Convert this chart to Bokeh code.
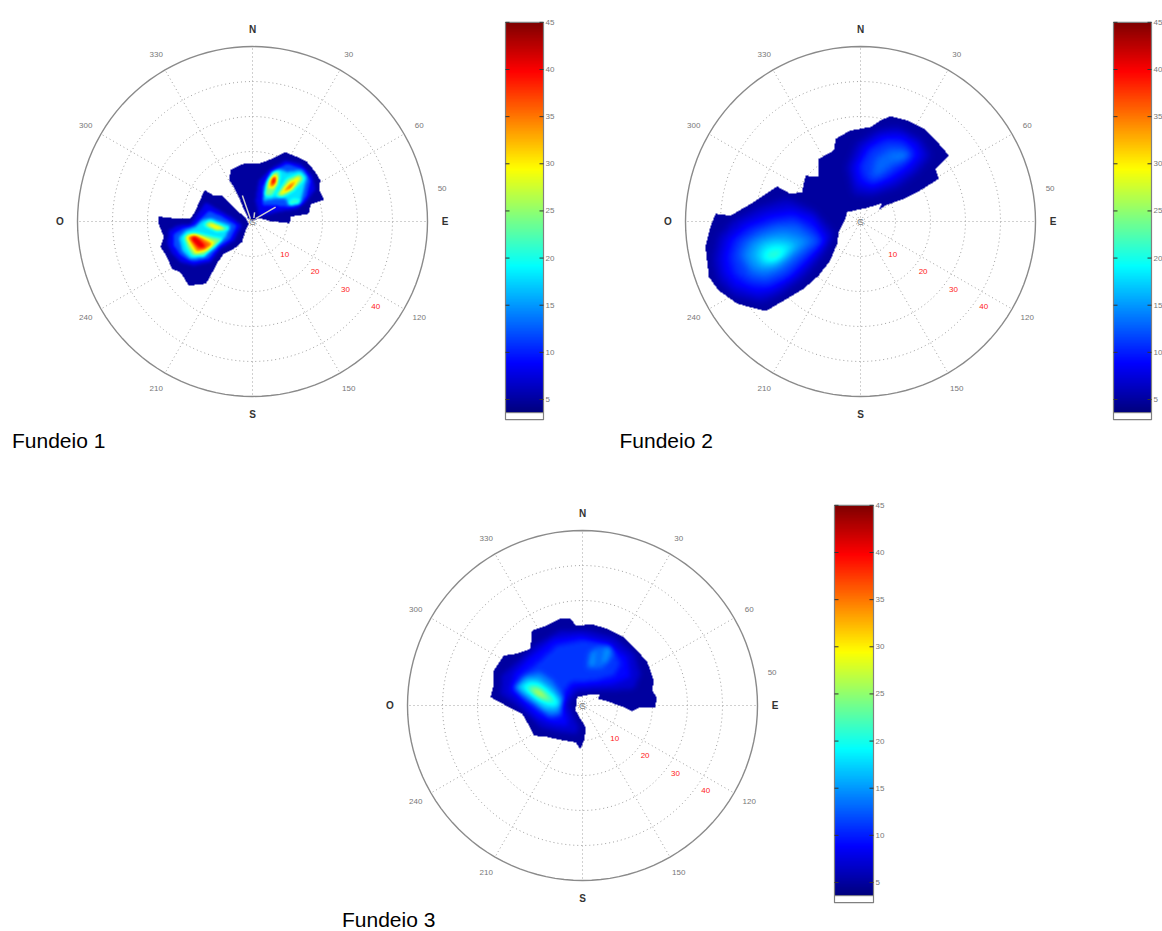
import numpy as np
from bokeh.core.properties import value
from bokeh.embed import file_html
from bokeh.models import LinearColorMapper, Range1d
from bokeh.plotting import figure
from bokeh.resources import INLINE

# ---------- data: contours (level, [(east, north) speed components]) ----------
CBAR_TICKS = [5, 10, 15, 20, 25, 30, 35, 40, 45]
RING_LABELS = [10, 20, 30, 40]
DIR_LABELS = ["N", "30", "60", "50", "E", "120", "150", "S", "210", "240", "O", "300", "330"]
DIR_LABEL_BEARINGS = [0, 30, 60, 80, 90, 120, 150, 180, 210, 240, 270, 300, 330]
TITLES = ["Fundeio 1", "Fundeio 2", "Fundeio 3"]

F1_OUTLINES = [
    [(-1.3,1.0),(-2.5,3.6),(-3.9,7.0),(-5.3,9.8),(-6.6,11.7),(-6.3,14.8),(-2.5,16.5),(1.8,16.5),(5.6,17.9),(9.4,19.8),(12.8,18.4),(15.6,17.0),(18.0,14.1),(19.4,11.7),(19.0,9.3),(20.4,6.2),(16.6,4.9),(16.1,2.2),(11.0,1.4),(10.6,-0.5),(5.1,0.1),(1.8,1.0),(0,0.3)],
    [(-26.8,1.4),(-23.0,1.0),(-17.7,0.8),(-16.3,3.1),(-13.7,9.0),(-11.0,7.4),(-8.7,7.4),(-6.3,4.9),(-2.0,1.0),(-1.0,-0.7),(-2.0,-2.6),(-3.0,-5.9),(-5.3,-7.8),(-8.2,-9.2),(-9.9,-11.6),(-12.5,-16.4),(-13.4,-17.8),(-18.2,-18.3),(-20.6,-14.5),(-23.0,-13.5),(-24.4,-10.2),(-26.3,-7.3),(-25.3,-4.5),(-26.8,-0.7)],
]
F1_CONTOURS = [
    (8, [(1.8,1.7),(0.9,6.0),(1.8,11.7),(5.1,15.0),(9.4,17.4),(13.7,16.5),(17.0,13.1),(18.0,9.3),(15.6,6.0),(12.8,3.6),(7.0,2.7),(3.2,1.7)]),
    (12, [(2.8,4.6),(2.8,9.8),(5.1,14.1),(9.9,16.5),(14.7,15.0),(16.6,11.7),(15.6,7.4),(13.7,4.6),(9.9,4.1),(6.1,4.6)]),
    (18, [(3.2,6.0),(3.7,10.3),(5.6,14.1),(7.5,15.0),(9.9,14.1),(13.7,14.6),(15.6,12.7),(14.7,9.3),(13.7,5.5),(10.9,4.6),(9.4,6.5),(6.1,6.5)]),
    (21, [(9.9,5.2),(11.8,6.5),(13.7,6.2),(13.2,4.9),(10.9,4.6)]),
    (24, [(3.4,7.4),(4.2,11.7),(6.1,14.4),(7.7,14.1),(7.5,10.8),(5.6,7.4)]),
    (24, [(6.8,7.4),(9.9,12.2),(13.7,13.6),(14.7,12.2),(11.8,8.9),(8.5,7.0)]),
    (30, [(4.2,9.3),(5.1,12.2),(6.6,13.6),(7.2,12.2),(6.1,9.3)]),
    (30, [(7.5,7.9),(10.4,11.2),(13.2,13.0),(13.7,12.2),(11.3,9.3),(8.5,7.6)]),
    (36, [(4.9,10.3),(5.6,12.7),(6.9,13.1),(6.9,11.2),(5.9,10.0)]),
    (36, [(9.0,8.7),(10.9,10.8),(12.3,11.2),(10.9,9.3)]),
    (41, [(5.3,10.8),(5.9,12.4),(6.7,12.5),(6.3,10.8)]),
    (8, [(-23.9,-2.6),(-21.5,-1.1),(-17.7,-0.7),(-15.3,2.7),(-13.4,5.5),(-10.1,3.6),(-5.3,0.8),(-3.0,-1.1),(-5.3,-5.4),(-9.1,-7.8),(-12.0,-11.6),(-16.8,-12.6),(-20.6,-11.6),(-23.0,-9.2),(-24.4,-6.4)]),
    (12, [(-22.5,-3.5),(-20.1,-2.1),(-16.8,-1.1),(-14.4,1.2),(-12.5,3.1),(-9.1,1.7),(-4.4,-1.1),(-6.3,-5.0),(-9.6,-7.3),(-12.5,-10.7),(-17.2,-11.6),(-20.6,-9.7),(-22.5,-6.9)]),
    (18, [(-21.0,-4.5),(-19.1,-2.6),(-16.3,-1.6),(-14.4,0.3),(-12.0,1.0),(-6.3,-1.1),(-7.7,-4.5),(-10.6,-7.3),(-13.9,-10.2),(-17.7,-10.7),(-20.1,-8.3)]),
    (24, [(-19.6,-4.5),(-18.2,-3.3),(-15.3,-3.5),(-11.0,-4.5),(-8.7,-5.0),(-11.0,-7.3),(-13.9,-9.7),(-17.2,-9.7),(-18.7,-7.3)]),
    (24, [(-13.9,-1.1),(-12.5,0.3),(-8.2,-1.6),(-6.3,-2.1),(-10.1,-2.8)]),
    (30, [(-19.1,-4.3),(-16.8,-3.5),(-12.5,-5.0),(-10.6,-5.9),(-13.0,-8.3),(-16.3,-9.2),(-17.9,-6.9)]),
    (30, [(-13.0,-1.1),(-11.5,-0.4),(-7.7,-2.1),(-10.6,-2.3)]),
    (36, [(-18.5,-4.3),(-16.3,-3.8),(-13.4,-5.4),(-11.5,-6.6),(-13.9,-8.1),(-15.8,-8.5),(-17.2,-6.4)]),
    (41, [(-17.7,-4.5),(-16.3,-4.3),(-14.4,-5.9),(-13.4,-7.3),(-15.3,-7.5),(-16.8,-5.9)]),
]
F1_GAPS = [[(-0.6,0.8),(-2.9,7.4)], [(0.9,0.8),(6.6,4.1)], [(0.4,1.0),(0.6,2.6)]]

F2_OUTLINES = [
    [(-7.1,23.6),(-2.9,26.0),(2.9,27.0),(5.7,28.9),(8.6,30.1),(13.3,28.9),(18.1,26.5),(22.4,22.2),(25.2,18.9),(21.4,15.0),(22.4,12.2),(17.1,8.9),(12.4,6.5),(7.1,4.6),(5.2,3.3),(6.2,5.2),(1.9,3.9),(-3.8,2.7),(-4.3,0.8),(-6.2,-3.0),(-6.7,-6.4),(-8.6,-11.1),(-11.9,-15.4),(-16.2,-19.2),(-21.9,-22.6),(-27.1,-25.6),(-35.2,-23.5),(-40.5,-19.7),(-43.3,-15.9),(-44.3,-7.3),(-42.9,-1.6),(-41.4,2.2),(-37.1,1.7),(-31.4,5.0),(-23.8,10.0),(-20.0,7.9),(-16.7,8.4),(-15.7,13.1),(-11.9,12.7),(-11.9,17.9),(-7.6,20.3)],
]
F2_CONTOURS = [
    (7, [(-3.8,15.5),(-1.0,22.2),(4.8,26.0),(10.5,27.0),(17.1,23.6),(20.0,18.9),(16.2,14.1),(10.5,9.8),(3.3,7.4),(-1.9,7.9)]),
    (9, [(-1.9,15.5),(1.0,21.2),(5.7,24.6),(11.4,25.0),(16.2,22.2),(17.6,18.9),(14.3,15.0),(8.6,11.2),(3.3,9.3),(-1.0,10.8)]),
    (11, [(0,16.0),(2.9,20.8),(7.6,23.1),(12.4,22.7),(15.2,19.3),(12.4,16.0),(7.6,12.7),(3.3,10.8),(1.0,12.7)]),
    (13, [(3.3,12.7),(4.3,17.9),(8.6,20.8),(13.3,20.3),(14.3,18.4),(9.5,16.5),(5.2,13.1)]),
    (14, [(8.6,18.4),(12.4,19.8),(13.8,18.6),(10.5,17.2)]),
    (7, [(-41.9,-11.1),(-40.5,-4.5),(-36.2,0.3),(-28.6,4.1),(-21.0,6.5),(-13.3,3.1),(-7.6,-3.5),(-10.5,-9.2),(-16.2,-15.9),(-22.9,-20.7),(-28.1,-23.0),(-36.2,-21.1),(-40.5,-16.9)]),
    (9, [(-39.5,-10.2),(-38.1,-5.0),(-33.3,-0.7),(-26.7,2.2),(-20.0,3.6),(-13.3,1.2),(-9.5,-5.0),(-13.3,-10.2),(-19.0,-15.9),(-24.8,-19.7),(-29.5,-20.7),(-36.2,-18.3),(-39.0,-14.5)]),
    (11, [(-37.1,-10.2),(-35.7,-5.4),(-31.4,-2.1),(-24.8,0.3),(-19.0,1.2),(-13.3,-2.1),(-10.5,-5.9),(-15.2,-10.2),(-21.0,-15.9),(-26.7,-18.3),(-31.4,-17.8),(-35.7,-15.0)]),
    (13, [(-34.8,-9.7),(-33.3,-5.9),(-29.0,-3.0),(-23.8,-1.1),(-18.1,-1.1),(-12.4,-5.4),(-17.1,-9.7),(-21.9,-14.0),(-27.1,-16.4),(-31.4,-15.4)]),
    (15, [(-32.9,-9.7),(-31.0,-5.9),(-26.7,-4.0),(-21.9,-3.0),(-17.1,-4.5),(-15.2,-5.9),(-19.0,-9.2),(-23.3,-13.0),(-27.6,-14.5),(-31.0,-13.0)]),
    (17, [(-30.5,-9.7),(-28.6,-6.4),(-24.8,-5.0),(-20.5,-5.4),(-18.1,-6.9),(-21.0,-10.2),(-24.8,-12.6),(-28.1,-12.6)]),
    (19, [(-28.6,-9.7),(-27.1,-7.3),(-23.8,-6.4),(-20.0,-7.3),(-22.4,-10.2),(-25.2,-11.6),(-27.6,-11.6)]),
    (21, [(-27.1,-10.2),(-25.2,-8.3),(-21.9,-8.3),(-23.3,-10.7),(-25.2,-11.1)]),
]

F3_OUTLINES = [
    [(-14.4,21.4),(-10.1,22.9),(-6.3,24.8),(-3.4,24.8),(-2.0,22.9),(3.2,23.1),(7.0,21.9),(11.8,19.5),(15.6,15.7),(18.5,12.4),(20.4,7.1),(19.9,4.3),(21.1,2.4),(20.9,-0.5),(16.1,-0.7),(14.2,-1.6),(11.8,-0.5),(6.6,1.4),(4.4,1.9),(5.0,3.3),(1.8,3.1),(-1.5,2.4),(-2.0,-1.4),(-0.6,-3.8),(0.9,-6.2),(0.6,-9.5),(-0.6,-12.4),(-2.0,-10.5),(-5.3,-10.0),(-10.1,-9.0),(-13.9,-8.6),(-15.3,-5.7),(-17.2,-2.4),(-21.0,-0.5),(-26.3,2.4),(-25.3,6.2),(-25.3,10.0),(-22.5,14.3),(-18.7,14.8),(-14.9,16.2)],
]
F3_CONTOURS = [
    (7, [(-23.4,3.3),(-23.0,8.6),(-18.7,12.4),(-13.0,17.6),(-6.3,21.4),(1.3,21.4),(9.0,19.5),(14.7,14.8),(16.6,9.0),(14.7,4.8),(9.0,4.3),(4.2,4.3),(-1.5,3.8),(-3.9,0.5),(-2.5,-3.3),(-1.0,-6.2),(-1.5,-8.1),(-6.3,-7.6),(-12.0,-6.2),(-14.9,-3.3),(-18.7,0)]),
    (9, [(-21.0,4.3),(-19.6,9.0),(-14.9,13.8),(-8.2,19.0),(-0.6,20.0),(7.0,18.1),(12.8,13.8),(13.7,8.1),(9.0,6.2),(3.2,5.7),(-2.5,5.2),(-5.8,0.5),(-4.4,-3.3),(-4.4,-5.7),(-9.1,-5.2),(-13.0,-3.3),(-16.8,0.5)]),
    (11, [(-19.6,5.2),(-17.7,8.1),(-13.0,11.9),(-7.2,17.1),(0.4,18.6),(8.0,17.1),(10.9,11.9),(9.0,8.6),(3.2,7.1),(-3.4,6.7),(-7.2,1.4),(-5.8,-2.9),(-9.1,-3.8),(-12.5,-1.4),(-16.8,1.9)]),
    (13, [(1.3,10.5),(1.8,14.8),(4.2,16.7),(8.0,17.1),(9.0,14.8),(5.6,10.5)]),
    (15, [(1.8,11.4),(2.8,15.7),(3.7,15.7),(3.2,11.4)]),
    (15, [(5.6,12.4),(6.6,16.7),(8.0,16.7),(7.1,12.4)]),
    (14, [(-19.6,5.2),(-16.3,8.6),(-12.0,9.5),(-8.7,7.1),(-5.3,2.4),(-6.3,-2.4),(-9.6,-2.9),(-13.9,0.5),(-17.7,2.9)]),
    (17, [(-18.9,5.4),(-15.8,7.6),(-12.5,7.6),(-8.7,4.8),(-5.8,1.0),(-7.7,-1.4),(-11.0,-1.0),(-14.9,1.9)]),
    (20, [(-17.2,5.4),(-14.9,6.7),(-12.0,6.2),(-7.7,2.4),(-6.8,0),(-9.6,0),(-13.0,1.9)]),
    (24, [(-15.8,4.8),(-13.4,5.4),(-11.0,3.8),(-8.7,1.6),(-10.6,1.4),(-13.4,2.9)]),
    (27, [(-14.4,4.3),(-12.5,4.5),(-10.1,2.2),(-12.0,2.4)]),
]

# ---------- layout ----------
W, H = 1154, 923
SCALE = 3.5          # px per speed unit
RMAX = 50
CENTERS = [(252, 221), (860, 221), (582, 705)]
CBARS = [(505, 543, 69, 399), (1113, 1151, 69, 399), (834, 873, 552, 882)]
TITLE_POS = [(11.5, 440), (619, 440), (341.5, 918.5)]
EDGE_LEVEL = 5.0
BLUR = [1, 3, 2]
VMIN, VMAX = 3.6, 45.0


def jet(n=256):
    out = []
    for i in range(n):
        t = i / (n - 1)
        r = np.clip(min(4 * t - 1.5, -4 * t + 4.5), 0, 1)
        g = np.clip(min(4 * t - 0.5, -4 * t + 3.5), 0, 1)
        b = np.clip(min(4 * t + 0.5, -4 * t + 2.5), 0, 1)
        out.append("#%02x%02x%02x" % (int(r * 255), int(g * 255), int(b * 255)))
    return out


mapper = LinearColorMapper(palette=jet(), low=VMIN, high=VMAX, nan_color=(0, 0, 0, 0))


def inside(U, V, poly):
    """Even-odd test of grid points against one polygon."""
    pts = np.array(poly)
    res = np.zeros(U.shape, bool)
    x0, y0 = pts[:, 0], pts[:, 1]
    x1, y1 = np.roll(x0, -1), np.roll(y0, -1)
    for a, b, c, d in zip(x0, y0, x1, y1):
        if b == d:
            continue
        cond = (b > V) != (d > V)
        res ^= cond & (U < (c - a) * (V - b) / (d - b) + a)
    return res


def box_blur(a, r):
    for _ in range(3):
        for axis in (0, 1):
            s = np.zeros_like(a)
            for k in range(-r, r + 1):
                s += np.roll(a, k, axis=axis)
            a = s / (2 * r + 1)
    return a


def field(outlines, contours, blur):
    n = int(2 * RMAX * SCALE)
    axis = (np.arange(n) + 0.5) / SCALE - RMAX
    U, V = np.meshgrid(axis, axis)
    mask = np.zeros(U.shape, bool)
    for poly in outlines:
        mask |= inside(U, V, poly)
    f = np.full(U.shape, EDGE_LEVEL)
    for level, poly in contours:
        inn = inside(U, V, poly)
        f[inn] = np.maximum(f[inn], level)
    f = box_blur(f, blur)
    f[~mask] = np.nan
    return f


p = figure(width=W, height=H, x_range=Range1d(8, 8 + W), y_range=Range1d(-8 - H, -8),
           toolbar_location=None, output_backend="svg", min_border=0,
           outline_line_color=None, background_fill_color="white")
p.axis.visible = False
p.grid.visible = False
p.styles = {"position": "absolute", "left": "8px", "top": "8px"}

FONT = value("Liberation Sans")
GRID = "#a0a0a0"
all_outlines = [F1_OUTLINES, F2_OUTLINES, F3_OUTLINES]
all_contours = [F1_CONTOURS, F2_CONTOURS, F3_CONTOURS]

for i, (cx, cy) in enumerate(CENTERS):
    X = lambda e: cx + np.asarray(e) * SCALE
    Y = lambda n: -(cy - np.asarray(n) * SCALE)

    # dotted rings and spokes
    th = np.radians(np.arange(0, 361, 3))
    for r in [10, 20, 30, 40]:
        p.line(X(r * np.sin(th)), Y(r * np.cos(th)), line_color=GRID, line_width=1, line_dash="1 3")
    for b in range(0, 360, 30):
        t = np.radians(b)
        p.line(X([0, RMAX * np.sin(t)]), Y([0, RMAX * np.cos(t)]), line_color=GRID, line_width=1, line_dash="1 3")
    p.line(X(RMAX * np.sin(th)), Y(RMAX * np.cos(th)), line_color="#8a8a8a", line_width=1.4)

    # speed field
    img = field(all_outlines[i], all_contours[i], BLUR[i])
    p.image(image=[img], x=cx - RMAX * SCALE, y=-(cy + RMAX * SCALE), dw=2 * RMAX * SCALE, dh=2 * RMAX * SCALE,
            color_mapper=mapper)
    if i == 0:
        for seg in F1_GAPS:
            s = np.array(seg)
            p.line(X(s[:, 0]), Y(s[:, 1]), line_color="#cfcfcf", line_width=1.5)

    # direction labels
    for lab, b in zip(DIR_LABELS, DIR_LABEL_BEARINGS):
        t = np.radians(b)
        big = lab in "NESO"
        p.text([float(X(55 * np.sin(t)))], [float(Y(55 * np.cos(t)))], text=[lab], text_font=FONT,
               text_font_size="10px" if big else "8px", text_color="#333333" if big else "#777777",
               text_font_style="bold" if big else "normal", text_align="center", text_baseline="middle")
    # speed labels along the 120 degree spoke
    t = np.radians(120)
    for r in RING_LABELS:
        p.text([float(X(r * np.sin(t))) + 2], [float(Y(r * np.cos(t))) - 15], text=[str(r)], text_font=FONT,
               text_font_size="8px", text_color="#ff2020", text_align="center", text_baseline="middle")
    p.text([cx], [-cy], text=["G"], text_font=FONT, text_font_size="9px", text_color="#777777",
           text_align="center", text_baseline="middle")

    # colour bar
    x0, x1, y40, y5 = CBARS[i]
    per = (y5 - y40) / 35.0
    V2Y = lambda v: -(y5 - (np.asarray(v) - 5) * per)
    grad = np.linspace(VMIN, VMAX, 256).reshape(-1, 1)
    p.image(image=[grad], x=x0, y=float(V2Y(VMIN)), dw=x1 - x0, dh=float(V2Y(VMAX) - V2Y(VMIN)), color_mapper=mapper)
    bottom = float(V2Y(VMIN)) - 7
    p.quad(left=x0, right=x1, bottom=bottom, top=float(V2Y(45)), fill_color=None, line_color="#808080", line_width=1.2)
    p.line([x0, x1], [float(V2Y(VMIN))] * 2, line_color="#808080", line_width=1)
    for v in CBAR_TICKS:
        yy = float(V2Y(v))
        p.line([x0, x0 + 4], [yy, yy], line_color="#333333", line_width=1)
        p.line([x1 - 4, x1], [yy, yy], line_color="#333333", line_width=1)
        p.text([x1 + 2], [yy], text=[str(v)], text_font=FONT, text_font_size="8px", text_color="#777777",
               text_align="left", text_baseline="middle")

    tx, ty = TITLE_POS[i]
    p.text([tx], [-ty], text=[TITLES[i]], text_font=FONT, text_font_size="21px", text_color="#000000",
           text_align="left", text_baseline="middle")

open("out.html", "w").write(file_html(p, INLINE))
